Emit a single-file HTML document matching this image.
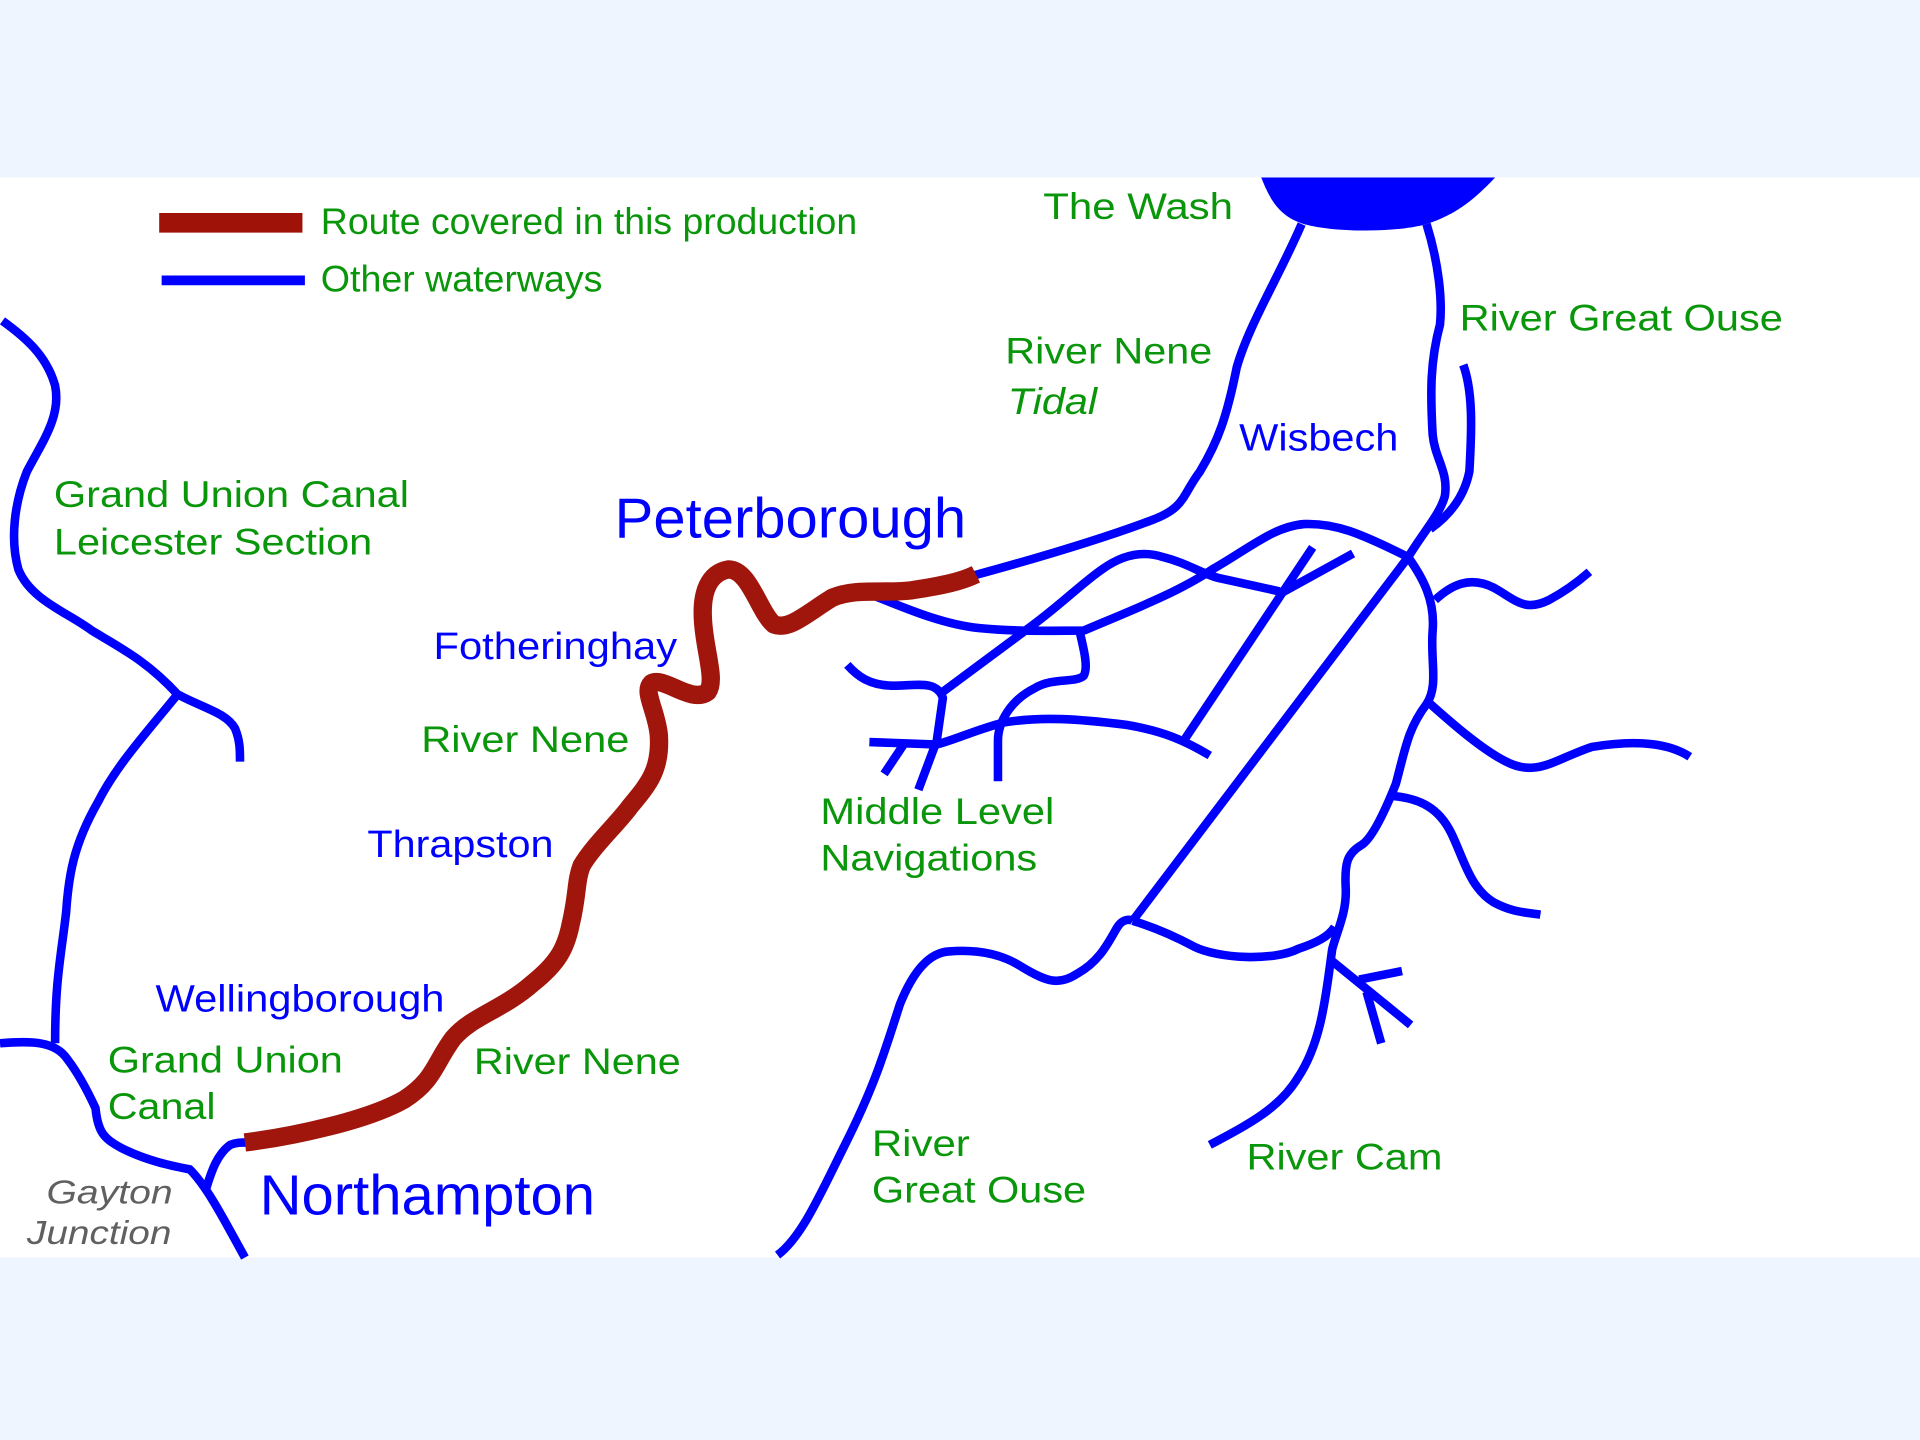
<!DOCTYPE html>
<html><head><meta charset="utf-8"><style>
html,body{margin:0;padding:0;background:#eef5ff}
svg{display:block}
text{font-family:"Liberation Sans",sans-serif}
.g{fill:#0a960a;font-size:30px}
.b{fill:#0000ff;font-size:31px}
</style></head><body>
<svg width="1920" height="1440" viewBox="0 0 1568 1176" xmlns="http://www.w3.org/2000/svg">
<rect x="0" y="0" width="1568" height="1176" fill="#eef5ff"/>
<rect x="0" y="145" width="1568" height="882" fill="#ffffff"/>
<g fill="none" stroke="#0000ff" stroke-width="7" stroke-linecap="butt" stroke-linejoin="round">
<path d="M1063,183 C1045,225 1020,265 1010,300 C1002,340 995,360 980,385 C965,405 968,415 940,425 C900,440 850,455 795,470"/>
<path d="M1165,183 C1175,215 1178,245 1176,265 C1168,295 1168,320 1170,355 C1172,375 1183,385 1180,405 C1176,420 1162,435 1150,455 L925,752"/>
<path d="M1195,298 C1203,320 1202,350 1200,385 C1196,405 1185,420 1168,432"/>
<path d="M1150,455 C1162,472 1172,490 1170,515 C1168,540 1175,560 1165,575 C1150,595 1148,610 1140,640 C1130,665 1120,685 1112,690 C1100,697 1098,705 1099,725 C1100,745 1092,760 1088,775 C1083,810 1080,850 1060,880 C1045,905 1020,918 988,935"/>
<path d="M925,752 C945,758 960,765 975,773 C995,783 1040,785 1060,775 C1075,770 1085,765 1090,757"/>
<path d="M635,1025 C655,1010 670,975 690,935 C715,885 722,860 735,820 C745,795 758,778 775,777 C800,775 820,780 835,790 C855,802 865,805 880,795 C898,785 905,770 912,758 C918,748 925,752 925,752"/>
<path d="M1088,785 L1152,837 M1110,800 L1145,793 M1116,810 L1128,852"/>
<path d="M1172,490 C1185,478 1200,470 1220,480 C1238,490 1245,500 1265,490 C1280,482 1290,474 1298,467"/>
<path d="M1166,573 C1185,590 1210,612 1230,622 C1255,635 1270,620 1300,610 C1330,605 1360,605 1380,618"/>
<path d="M1137,650 C1160,652 1175,660 1185,680 C1195,700 1200,725 1220,737 C1235,745 1245,745 1258,747"/>
<path d="M710,485 C740,497 770,510 800,513 C830,516 860,515 885,515 C920,500 960,485 990,465 C1020,448 1040,430 1065,428 C1090,427 1110,435 1150,455"/>
<path d="M882,517 C885,530 889,545 885,552 C878,558 860,553 845,562 C825,572 815,590 815,605 L815,638"/>
<path d="M770,565 L840,513 C865,495 885,475 900,465 C918,452 935,450 950,455 C970,460 980,468 995,472 L1045,483"/>
<path d="M1047,484 L1105,452 M1072,447 L968,603"/>
<path d="M692,543 C700,552 710,560 730,560 C748,560 765,555 770,570 L765,605 L750,645"/>
<path d="M710,606 L765,608 C780,604 800,595 820,590 C850,585 880,587 920,592 C950,597 968,605 988,617"/>
<path d="M738,608 L722,632"/>
<path d="M2,262 C20,275 38,290 45,315 C50,340 35,360 22,385 C12,410 8,440 15,465 C25,490 55,500 75,515 C100,530 120,540 145,567 C165,578 185,582 192,595 C196,605 196,612 196,622"/>
<path d="M145,567 C120,598 95,625 80,655 C60,690 56,715 54,745 C50,780 45,800 45,852"/>
<path d="M0,852 C25,850 45,850 55,865 C65,878 72,892 78,905 C80,925 85,930 100,938 C120,948 140,952 155,955 C170,970 185,1000 200,1027"/>
<path d="M168,972 C173,955 178,942 188,935 C193,933 197,933 202,933"/>
</g>
<path d="M1030,145 L1221,145 C1205,162 1190,175 1165,183 C1140,190 1090,190 1065,183 C1045,177 1037,163 1030,145 Z" fill="#0000ff"/>
<path d="M200,933 C240,928 300,915 330,898 C355,882 355,868 370,848 C385,830 410,825 435,803 C455,787 462,775 466,755 C472,730 470,720 475,707 C485,690 505,672 515,658 C530,640 540,628 538,600 C536,580 525,565 532,558 C542,552 565,575 578,565 C585,555 575,530 574,505 C573,485 578,468 595,465 C612,465 620,500 632,510 C645,515 660,500 680,488 C700,480 720,485 745,482 C770,478 785,475 797,469" fill="none" stroke="#a0160c" stroke-width="15" stroke-linejoin="round"/>
<line x1="130" y1="182" x2="247" y2="182" stroke="#9e1208" stroke-width="16"/>
<line x1="132" y1="229" x2="249" y2="229" stroke="#0000ff" stroke-width="8"/>
<g lengthAdjust="spacingAndGlyphs">
<text class="g" x="262" y="191" textLength="438" lengthAdjust="spacingAndGlyphs">Route covered in this production</text>
<text class="g" x="262" y="238" textLength="230" lengthAdjust="spacingAndGlyphs">Other waterways</text>
<text class="g" x="852" y="179" textLength="155" lengthAdjust="spacingAndGlyphs">The Wash</text>
<text class="g" x="1192" y="270" textLength="264" lengthAdjust="spacingAndGlyphs">River Great Ouse</text>
<text class="g" x="821" y="297" textLength="169" lengthAdjust="spacingAndGlyphs">River Nene</text>
<text class="g" x="823" y="338" font-style="italic" textLength="73" lengthAdjust="spacingAndGlyphs">Tidal</text>
<text class="b" x="1012" y="368" textLength="130" lengthAdjust="spacingAndGlyphs">Wisbech</text>
<text class="g" x="44" y="414" textLength="290" lengthAdjust="spacingAndGlyphs">Grand Union Canal</text>
<text class="g" x="44" y="453" textLength="260" lengthAdjust="spacingAndGlyphs">Leicester Section</text>
<text x="502" y="439" fill="#0000ff" font-size="46" textLength="287" lengthAdjust="spacingAndGlyphs">Peterborough</text>
<text class="b" x="354" y="538" textLength="199" lengthAdjust="spacingAndGlyphs">Fotheringhay</text>
<text class="g" x="344" y="614" textLength="170" lengthAdjust="spacingAndGlyphs">River Nene</text>
<text class="g" x="670" y="673" textLength="191" lengthAdjust="spacingAndGlyphs">Middle Level</text>
<text class="g" x="670" y="711" textLength="177" lengthAdjust="spacingAndGlyphs">Navigations</text>
<text class="b" x="300" y="700" textLength="152" lengthAdjust="spacingAndGlyphs">Thrapston</text>
<text class="b" x="127" y="826" textLength="236" lengthAdjust="spacingAndGlyphs">Wellingborough</text>
<text class="g" x="88" y="876" textLength="192" lengthAdjust="spacingAndGlyphs">Grand Union</text>
<text class="g" x="88" y="914" textLength="88" lengthAdjust="spacingAndGlyphs">Canal</text>
<text class="g" x="387" y="877" textLength="169" lengthAdjust="spacingAndGlyphs">River Nene</text>
<text class="g" x="712" y="944" textLength="80" lengthAdjust="spacingAndGlyphs">River</text>
<text class="g" x="712" y="982" textLength="175" lengthAdjust="spacingAndGlyphs">Great Ouse</text>
<text class="g" x="1018" y="955" textLength="160" lengthAdjust="spacingAndGlyphs">River Cam</text>
<text x="38" y="983" fill="#606060" font-size="27" font-style="italic" textLength="103" lengthAdjust="spacingAndGlyphs">Gayton</text>
<text x="22" y="1016" fill="#606060" font-size="27" font-style="italic" textLength="118" lengthAdjust="spacingAndGlyphs">Junction</text>
<text x="212" y="992" fill="#0000ff" font-size="46" textLength="274" lengthAdjust="spacingAndGlyphs">Northampton</text>
</g>
</svg>
</body></html>
